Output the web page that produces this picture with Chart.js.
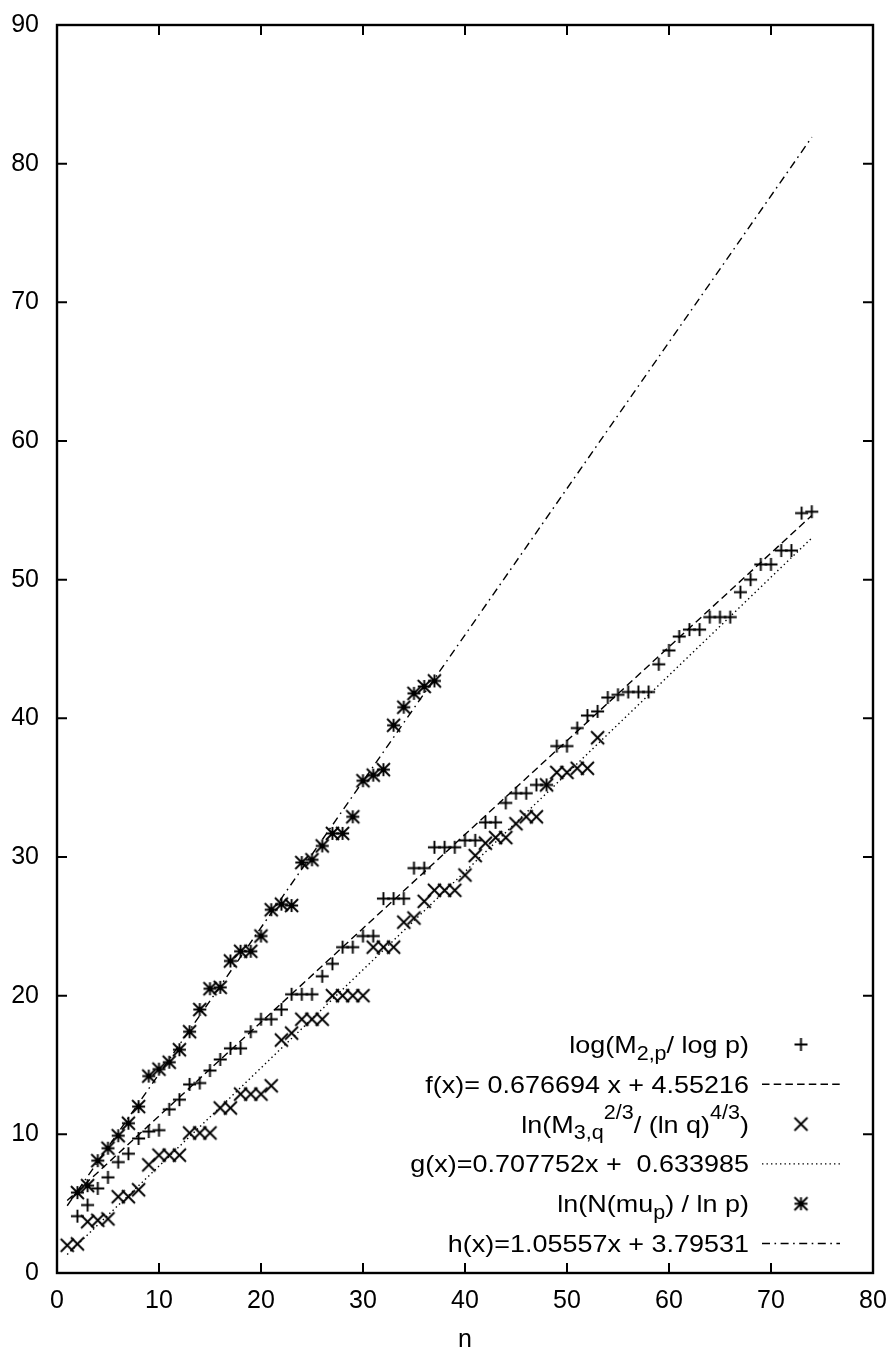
<!DOCTYPE html>
<html>
<head>
<meta charset="utf-8">
<script src="https://cdn.jsdelivr.net/npm/chart.js@4/dist/chart.umd.min.js"></script>
<style>
html,body{margin:0;padding:0;background:#fff;}
canvas{display:block;}
</style>
</head>
<body>
<canvas id="c" width="893" height="1353"></canvas>
<script>
// ---------- data ----------
const xTickValues = [0, 10, 20, 30, 40, 50, 60, 70, 80];
const yTickValues = [0, 10, 20, 30, 40, 50, 60, 70, 80, 90];
const xAxisTitle = 'n';

// log(M_{2,p} / log p)   (+)
const plusN = [2,3,4,5,6,7,8,9,10,11,12,13,14,15,16,17,18,19,20,21,22,23,24,25,26,27,28,29,30,31,32,33,34,35,36,37,38,39,40,41,42,43,44,45,46,47,48,49,50,51,52,53,54,55,56,57,58,59,60,61,62,63,64,65,66,67,68,69,70,71,72,73,74];
const plusV = [4.1,4.9,6.1,6.9,8.0,8.6,9.7,10.2,10.3,11.8,12.5,13.6,13.7,14.6,15.4,16.2,16.2,17.4,18.3,18.3,19.0,20.1,20.1,20.1,21.4,22.3,23.5,23.5,24.3,24.3,27.0,27.0,27.0,29.2,29.2,30.7,30.7,30.7,31.2,31.2,32.5,32.5,33.9,34.6,34.6,35.2,35.2,38.0,38.0,39.3,40.2,40.5,41.5,41.7,41.9,41.9,41.9,43.9,44.9,45.9,46.4,46.4,47.3,47.3,47.3,49.1,50.0,51.1,51.1,52.1,52.1,54.8,54.9];

// ln(M_{3,q}^{2/3} / (ln q)^{4/3})   (x)
const crossN = [1,2,3,4,5,6,7,8,9,10,11,12,13,14,15,16,17,18,19,20,21,22,23,24,25,26,27,28,29,30,31,32,33,34,35,36,37,38,39,40,41,42,43,44,45,46,47,48,49,50,51,52,53];
const crossV = [2.0,2.1,3.7,3.8,3.9,5.5,5.5,6.0,7.8,8.5,8.5,8.5,10.1,10.1,10.1,11.9,11.9,12.9,12.9,12.9,13.5,16.8,17.3,18.3,18.3,18.3,20.0,20.0,20.0,20.0,23.5,23.5,23.5,25.3,25.6,26.8,27.6,27.6,27.6,28.7,30.1,31.0,31.4,31.4,32.4,32.9,32.9,35.2,36.1,36.1,36.4,36.4,38.6];

// ln(N(mu_p) / ln p)   (*)
const starN = [2,3,4,5,6,7,8,9,10,11,12,13,14,15,16,17,18,19,20,21,22,23,24,25,26,27,28,29,30,31,32,33,34,35,36,37];
const starV = [5.8,6.3,8.1,9.0,9.9,10.8,12.0,14.2,14.7,15.2,16.1,17.4,19.0,20.5,20.6,22.5,23.2,23.2,24.3,26.2,26.6,26.5,29.6,29.8,30.8,31.7,31.7,32.9,35.5,35.9,36.3,39.5,40.8,41.8,42.3,42.7];

// fitted lines (end points)
const fitFX = [1, 74];
const fitFY = [5.229, 54.628];
const fitGX = [1, 74];
const fitGY = [1.342, 53.008];
const fitHX = [1, 74];
const fitHY = [4.851, 81.907];

// legend labels (rich text: [text, 'n'|'sub'|'sup'])
const legendLabels = [
  [['log(M','n'],['2,p','sub'],['/ log p)','n']],
  [['f(x)= 0.676694 x + 4.55216','n']],
  [['ln(M','n'],['3,q','sub'],['2/3','sup'],['/ (ln q)','n'],['4/3','sup'],[')','n']],
  [['g(x)=0.707752x +  0.633985','n']],
  [['ln(N(mu','n'],['p','sub'],[') / ln p)','n']],
  [['h(x)=1.05557x + 3.79531','n']]
];

// ---------- styling helpers ----------
const FONT = '"Liberation Sans", Arial, Helvetica, sans-serif';
const DASH_F = [7.5, 4.2];
const DASH_G = [1.4, 3.1];
const DASH_H = [8, 4.5, 1.6, 4.5];

function makeMarker(type) {
  const s = 6.5, lw = 1.9, size = 17, m = size / 2;
  const c = document.createElement('canvas');
  c.width = size; c.height = size;
  const g = c.getContext('2d');
  g.strokeStyle = '#000'; g.lineWidth = lw; g.lineCap = 'butt';
  g.beginPath();
  if (type === 'plus' || type === 'star') {
    g.moveTo(m - s, m); g.lineTo(m + s, m);
    g.moveTo(m, m - s); g.lineTo(m, m + s);
  }
  if (type === 'cross' || type === 'star') {
    g.moveTo(m - s, m - s); g.lineTo(m + s, m + s);
    g.moveTo(m - s, m + s); g.lineTo(m + s, m - s);
  }
  g.stroke();
  return c;
}
const mkPlus = makeMarker('plus');
const mkCross = makeMarker('cross');
const mkStar = makeMarker('star');

const pts = (xs, ys) => xs.map((x, i) => ({x: x, y: ys[i]}));

// ---------- plugins ----------
const framePlugin = {
  id: 'frame',
  afterDatasetsDraw(chart) {
    const {ctx, chartArea: a, scales} = chart;
    ctx.save();
    ctx.strokeStyle = '#000';
    ctx.lineWidth = 2;
    ctx.setLineDash([]);
    ctx.beginPath();
    const tl = 10;
    scales.x.ticks.forEach(t => {
      const p = scales.x.getPixelForValue(t.value);
      ctx.moveTo(p, a.bottom); ctx.lineTo(p, a.bottom - tl);
      ctx.moveTo(p, a.top); ctx.lineTo(p, a.top + tl);
    });
    scales.y.ticks.forEach(t => {
      const p = scales.y.getPixelForValue(t.value);
      ctx.moveTo(a.left, p); ctx.lineTo(a.left + tl, p);
      ctx.moveTo(a.right, p); ctx.lineTo(a.right - tl, p);
    });
    ctx.stroke();
    ctx.lineWidth = 2.4;
    ctx.strokeRect(a.left, a.top, a.right - a.left, a.bottom - a.top);
    ctx.restore();
  }
};

function drawRich(ctx, segs, rightX, baseline) {
  const main = 24.5, small = 19.6, sx = 1.1;
  const fontOf = k => (k === 'n' ? main : small) + 'px ' + FONT;
  let w = 0;
  segs.forEach(([t, k]) => { ctx.font = fontOf(k); w += ctx.measureText(t).width; });
  ctx.save();
  ctx.translate(rightX - w * sx, baseline);
  ctx.scale(sx, 1);
  ctx.fillStyle = '#000';
  ctx.textBaseline = 'alphabetic';
  ctx.textAlign = 'left';
  let x = 0;
  segs.forEach(([t, k]) => {
    ctx.font = fontOf(k);
    const dy = k === 'sub' ? 6.5 : (k === 'sup' ? -14 : 0);
    ctx.fillText(t, x, dy);
    x += ctx.measureText(t).width;
  });
  ctx.restore();
}

const legendPlugin = {
  id: 'gpLegend',
  afterDraw(chart) {
    const ctx = chart.ctx;
    const textRight = 749, base0 = 1053, step = 39.8;
    const sampleL = 762, sampleR = 840, markX = 801;
    const samples = [
      {img: mkPlus}, {dash: DASH_F}, {img: mkCross}, {dash: DASH_G}, {img: mkStar}, {dash: DASH_H}
    ];
    legendLabels.forEach((segs, i) => {
      const b = base0 + i * step;
      drawRich(ctx, segs, textRight, b);
      const cy = b - 8.5;
      const s = samples[i];
      ctx.save();
      if (s.img) {
        ctx.drawImage(s.img, markX - s.img.width / 2, cy - s.img.height / 2);
      } else {
        ctx.strokeStyle = '#000';
        ctx.lineWidth = 1.4;
        ctx.setLineDash(s.dash);
        ctx.beginPath();
        ctx.moveTo(sampleL, cy); ctx.lineTo(sampleR, cy);
        ctx.stroke();
      }
      ctx.restore();
    });
  }
};

// ---------- chart ----------
const tickFont = {family: FONT, size: 25};
new Chart(document.getElementById('c').getContext('2d'), {
  type: 'scatter',
  data: {
    datasets: [
      {label: 'log(M2,p/ log p)', data: pts(plusN, plusV), pointStyle: mkPlus, pointRadius: 7, showLine: false, borderColor: '#000', backgroundColor: '#000'},
      {label: 'f(x)', data: pts(fitFX, fitFY), showLine: true, pointRadius: 0, borderColor: '#000', borderWidth: 1.4, borderDash: DASH_F, fill: false},
      {label: 'ln(M3,q^2/3/(ln q)^4/3)', data: pts(crossN, crossV), pointStyle: mkCross, pointRadius: 7, showLine: false, borderColor: '#000', backgroundColor: '#000'},
      {label: 'g(x)', data: pts(fitGX, fitGY), showLine: true, pointRadius: 0, borderColor: '#000', borderWidth: 1.4, borderDash: DASH_G, fill: false},
      {label: 'ln(N(mu_p) / ln p)', data: pts(starN, starV), pointStyle: mkStar, pointRadius: 7, showLine: false, borderColor: '#000', backgroundColor: '#000'},
      {label: 'h(x)', data: pts(fitHX, fitHY), showLine: true, pointRadius: 0, borderColor: '#000', borderWidth: 1.4, borderDash: DASH_H, fill: false}
    ]
  },
  options: {
    responsive: false,
    animation: false,
    devicePixelRatio: 1,
    layout: {padding: {top: 25, right: 20, bottom: 0, left: 0}},
    plugins: {legend: {display: false}, tooltip: {enabled: false}, title: {display: false}},
    elements: {line: {tension: 0}},
    scales: {
      x: {
        type: 'linear', min: 0, max: 80,
        afterBuildTicks(s) { s.ticks = xTickValues.map(v => ({value: v})); },
        ticks: {font: tickFont, color: '#000', padding: 13.5, maxRotation: 0, autoSkip: false},
        grid: {display: false, drawTicks: false},
        border: {display: false},
        title: {display: true, text: xAxisTitle, color: '#000', font: {family: FONT, size: 25, lineHeight: 1}, padding: {top: 0, bottom: 0}},
        afterFit(s) { s.height = 80; s.paddingLeft = 0; s.paddingRight = 0; }
      },
      y: {
        type: 'linear', min: 0, max: 90,
        afterBuildTicks(s) { s.ticks = yTickValues.map(v => ({value: v})); },
        ticks: {font: tickFont, color: '#000', padding: 18, autoSkip: false},
        grid: {display: false, drawTicks: false},
        border: {display: false},
        afterFit(s) { s.width = 57; s.paddingTop = 0; s.paddingBottom = 0; }
      }
    }
  },
  plugins: [framePlugin, legendPlugin]
});
</script>
</body>
</html>
